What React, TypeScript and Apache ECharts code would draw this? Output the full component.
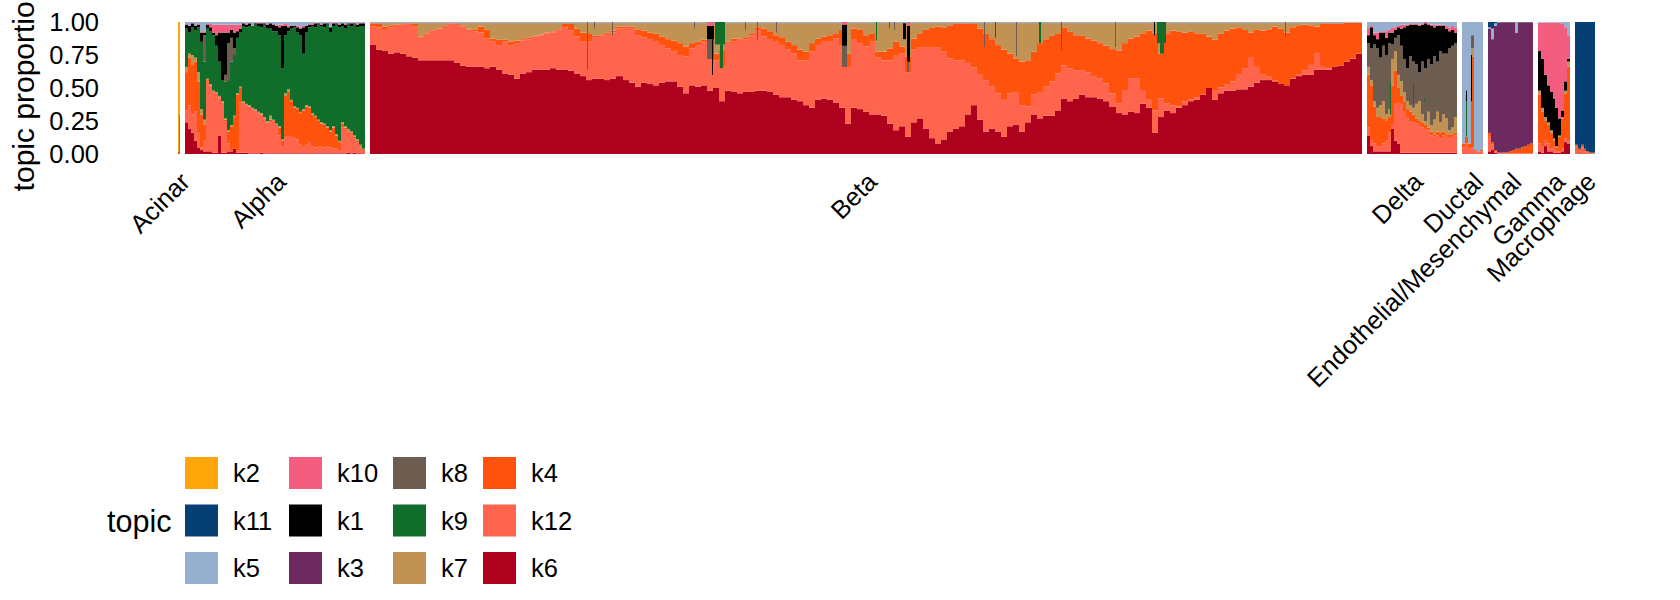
import React, { useEffect, useRef } from "react";
import * as echarts from "echarts";

const topicColors: Record<string, string> = {
  k2: "#FFA60A", k11: "#063F74", k5: "#96AFCF", k10: "#F35E80", k1: "#000000", k3: "#6C2A60",
  k8: "#6D5C50", k9: "#106E2A", k7: "#C09253", k4: "#FF530D", k12: "#FF654D", k6: "#AE011D",
};
const stackOrder = ["k6", "k12", "k4", "k7", "k9", "k8", "k3", "k1", "k10", "k5", "k11", "k2"];
const yTicks = [0, 0.25, 0.5, 0.75, 1];
const groupGap = 5;

// Each array holds, column by column, the proportion at the top edge of that topic's band.
const acinarK4Top = [0.02, 0.3];
const acinarK5Top = [0.02, 0.31];

const alphaK6Top = [.24,.19,.16,.10,.05,.03,.02,.02,.02,.01,.01,.14,.01,.01,.02,.02,.04,.01,.01,.01,.01,.005,.005,.005,.005,.01,.005,.005,.005,.005,.005,.005,.005,.005,.005,.005,.005,.005,.005,.005,.005,.005,.005,.005,.005,.005,.005,.005,.005,.005,.005,.005,.005,.005,.01,.005,.01,.005,.005,.005];
const alphaK12Top = [.33,.37,.30,.32,.16,.05,.10,.55,.52,.47,.46,.42,.38,.25,.08,.03,.04,.03,.39,.38,.37,.36,.34,.33,.31,.30,.27,.24,.24,.25,.22,.14,.06,.13,.13,.13,.12,.11,.07,.06,.07,.09,.06,.05,.06,.06,.05,.06,.05,.04,.04,.03,.20,.19,.17,.15,.12,.09,.05,.02];
const alphaK4Top = [.62,.73,.68,.70,.55,.30,.22,.56,.52,.47,.46,.43,.39,.26,.17,.21,.28,.45,.50,.39,.37,.36,.34,.33,.31,.30,.27,.24,.26,.25,.22,.20,.10,.44,.47,.40,.35,.34,.31,.33,.36,.35,.30,.28,.25,.23,.22,.20,.17,.20,.14,.09,.23,.20,.18,.16,.13,.10,.06,.03];
const alphaK7Top = [.66,.76,.75,.73,.62,.34,.26,.57,.53,.48,.47,.44,.40,.27,.18,.22,.29,.46,.51,.40,.38,.37,.35,.34,.32,.31,.28,.25,.29,.26,.23,.21,.11,.46,.49,.41,.36,.35,.32,.34,.37,.36,.31,.29,.26,.24,.23,.21,.18,.21,.15,.10,.24,.21,.19,.17,.14,.11,.07,.04];
const alphaK9Top = [.95,.92,.96,.94,.96,.85,.70,.95,.93,.90,.82,.70,.56,.55,.56,.70,.75,.88,.92,.97,.96,.97,.97,.98,.97,.96,.98,.95,.95,.93,.93,.90,.65,.90,.93,.95,.96,.92,.90,.76,.92,.96,.97,.96,.98,.97,.96,.98,.92,.97,.98,.96,.97,.95,.98,.97,.98,.96,.97,.97];
const alphaK8Top = [.95,.92,.96,.94,.96,.85,.90,.95,.93,.90,.82,.70,.56,.60,.84,.88,.80,.88,.92,.97,.96,.97,.97,.98,.97,.96,.98,.95,.95,.93,.93,.90,.65,.90,.93,.95,.96,.92,.90,.76,.92,.96,.97,.96,.98,.97,.96,.98,.92,.97,.98,.96,.97,.95,.98,.97,.98,.96,.97,.97];
const alphaK1Top = [.98,.97,.99,.97,.98,.92,.92,.98,.96,.92,.90,.92,.92,.92,.92,.94,.92,.93,.95,.99,.98,.99,.97,.99,.99,.99,.99,.98,.99,.98,.97,.96,.97,.97,.96,.97,.97,.96,.95,.96,.97,.98,.98,.99,.99,.98,.99,.99,.96,.99,.99,.98,.99,.98,.99,.99,.99,.98,.99,.99];
const alphaK10Top = [.985,.975,.995,.975,.985,.93,.93,.985,.99,.98,.98,.98,.98,.98,.98,.98,.98,.98,.98,.995,.985,.995,.975,.995,.995,.995,.995,.985,.995,.985,.975,.98,.98,.985,.975,.975,.975,.97,.96,.97,.975,.985,.985,.995,.995,.985,.995,.995,.965,.995,.995,.985,.995,.985,.995,.995,.995,.985,.995,.995];

const betaK6Top = [.83,.79,.78,.76,.77,.76,.74,.73,.71,.71,.71,.71,.71,.71,.69,.67,.66,.66,.66,.65,.66,.64,.61,.60,.57,.61,.62,.64,.64,.64,.65,.64,.64,.63,.61,.59,.56,.57,.57,.56,.57,.59,.56,.54,.51,.54,.53,.52,.54,.55,.55,.51,.46,.52,.51,.52,.48,.50,.40,.48,.47,.46,.47,.47,.48,.48,.47,.45,.43,.43,.41,.40,.37,.35,.41,.42,.41,.39,.35,.23,.35,.34,.32,
  .30,.30,.29,.23,.18,.21,.13,.24,.27,.19,.12,.08,.11,.17,.19,.21,.30,.37,.26,.17,.19,.17,.13,.21,.22,.17,.24,.30,.27,.29,.29,.33,.42,.40,.42,.45,.43,.43,.42,.40,.36,.31,.30,.32,.31,.38,.35,.16,.28,.33,.31,.35,.37,.40,.41,.45,.50,.41,.46,.48,.48,.49,.49,.51,.54,.56,.56,.55,.53,.52,.57,.59,.60,.60,.64,.64,.64,.66,.67,.70,.72,.76];
const betaK12Top = [.965,.96,.94,.96,.97,.98,.985,.965,.88,.91,.935,.95,.97,.985,.985,.965,.945,.93,.92,.875,.85,.825,.85,.82,.84,.86,.87,.89,.90,.915,.92,.94,.96,.935,.89,.85,.85,.885,.895,.90,.92,.95,.965,.95,.90,.885,.865,.85,.825,.80,.775,.75,.74,.80,.825,.85,.865,.71,.66,.84,.85,.865,.87,.90,.94,.89,.865,.85,.825,.79,.76,.71,.71,.775,.825,.85,.85,.875,.825,.66,.865,.84,.815,
  .85,.73,.71,.71,.75,.76,.62,.79,.81,.81,.81,.81,.775,.725,.71,.71,.69,.655,.60,.56,.51,.46,.41,.46,.47,.37,.36,.45,.47,.51,.55,.61,.67,.65,.635,.635,.62,.585,.575,.535,.46,.385,.485,.575,.575,.485,.41,.33,.42,.385,.37,.36,.40,.415,.43,.45,.50,.485,.505,.53,.55,.60,.65,.735,.66,.60,.585,.555,.53,.52,.575,.60,.635,.675,.76,.66,.65,.66,.67,.70,.725,.76];
const betaK4Top = [.99,.985,.965,.975,.98,.985,.99,.985,.89,.915,.94,.95,.97,.99,.99,.97,.95,.94,.965,.94,.875,.865,.865,.85,.86,.87,.88,.895,.905,.92,.925,.945,.985,.985,.95,.92,.915,.895,.90,.915,.935,.965,.97,.965,.945,.935,.92,.91,.89,.87,.86,.84,.815,.84,.85,.865,.87,.76,.79,.85,.875,.875,.885,.915,.96,.95,.93,.90,.885,.85,.825,.79,.775,.84,.875,.89,.90,.915,.94,.76,.95,.94,.90,
  .915,.775,.775,.80,.85,.815,.74,.875,.915,.94,.96,.965,.96,.975,.985,.99,.99,.985,.95,.91,.87,.825,.79,.76,.725,.70,.71,.775,.84,.87,.895,.915,.96,.925,.90,.895,.875,.86,.84,.82,.795,.785,.84,.875,.89,.915,.935,.915,.76,.915,.935,.925,.92,.925,.915,.91,.89,.865,.91,.935,.95,.96,.94,.92,.94,.935,.945,.965,.95,.92,.96,.97,.98,.975,.965,.985,.99,.99,.99,.995,.995,.995];
const betaK7Top = 0.992;

// [first cell, cells wide, topic, low, high]: narrow strips drawn over the columns.
const betaStrips: [number, number, string, number, number][] = [
  [217,1,"k8",.64,1],[242,1,"k8",.90,1],[387,1,"k8",.86,1],[324,1,"k8",.95,1],[375,1,"k8",.94,1],[406,1,"k8",.92,1],[224,1,"k8",.95,1],
  [337,7,"k8",.72,.87],[337,7,"k1",.87,.97],[337,7,"k10",.97,1],[342,1,"k1",.60,.87],[345,10,"k9",.83,1],[350,3,"k9",.65,.83],
  [472,5,"k8",.66,.82],[472,5,"k1",.82,.98],[472,5,"k10",.98,1],
  [533,3,"k1",.87,.99],[537,3,"k1",.70,.97],[537,3,"k10",.97,1],[537,2,"k8",.62,.70],[506,1,"k9",.86,1],[519,1,"k8",.95,1],[524,1,"k8",.94,1],
  [669,2,"k9",.84,1],[646,1,"k8",.74,1],[691,1,"k8",.79,1],[745,1,"k8",.81,1],[614,1,"k8",.81,1],[625,1,"k9",.88,1],[915,1,"k8",.89,1],
  [787,9,"k9",.84,1],[790,4,"k9",.76,.84],[784,1,"k1",.90,1],
];

const deltaK6Top = [.14,.06,.02,.02,.02,.02,.02,.02,.19,.10,.08,.01,.01,.01,.01,.01,.01,.01,.01,.01,.01,.01,.01,.01,.01,.01,.01,.01,.01,.01];
const deltaK12Top = [.20,.10,.08,.06,.06,.08,.10,.16,.22,.38,.38,.38,.32,.28,.25,.24,.23,.22,.20,.19,.18,.14,.13,.14,.12,.14,.13,.12,.13,.14];
const deltaK4Top = [.60,.52,.36,.28,.28,.27,.25,.28,.52,.63,.50,.44,.40,.34,.32,.30,.27,.25,.24,.22,.20,.17,.15,.17,.16,.17,.15,.15,.15,.16];
const deltaK7Top = [.66,.56,.40,.35,.37,.40,.30,.34,.72,.78,.60,.55,.47,.40,.37,.35,.38,.40,.30,.25,.32,.22,.26,.32,.24,.30,.27,.18,.20,.28];
const deltaK8Top = [.84,.80,.83,.80,.73,.82,.75,.84,.83,.88,.90,.82,.72,.65,.74,.70,.68,.62,.70,.65,.72,.68,.74,.70,.78,.76,.76,.80,.82,.84];
const deltaK1Top = [.90,.96,.90,.87,.92,.92,.88,.92,.92,.94,.96,.95,.96,.97,.98,.98,.98,.97,.98,.99,.98,.97,.96,.97,.97,.97,.95,.93,.94,.92];
const deltaK10Top = [.96,.97,.92,.92,.93,.93,.93,.94,.96,.96,.97,.98,.98,.98,.99,.99,.99,.98,.99,1,.99,.98,.98,.98,.98,.98,.97,.96,.97,.96];
const deltaStrips: [number, number, string, number, number][] = [[23,1,"k9",.30,.54],[46,1,"k9",.38,.53],[57,1,"k9",.40,.42]];

const ductalK12Top = [.05,.08,.04,.05,.02,.01,.02];
const ductalK4Top = [.08,.13,.08,.74,.03,.015,.03];
const ductalK7Top = [.08,.13,.08,.80,.03,.015,.03];
const ductalK8Top = [.08,.13,.08,.90,.03,.015,.03];
const ductalStrips: [number, number, string, number, number][] = [[9,1,"k1",.40,.75],[4,1,"k9",.13,.40],[4,1,"k1",.40,.48]];

const endoK6Top = [.02,.03,.01,.002,.002,.002,.002,.002,.002,.002,.002,.002,.002,.002,.002];
const endoK12Top = [.13,.07,.02,.01,.005,.005,.005,.005,.005,.005,.005,.005,.005,.005,.005];
const endoK4Top = [.16,.09,.03,.01,.01,.01,.015,.02,.03,.04,.04,.05,.06,.07,.08];
const endoK3Top = [.95,.87,.97,.995,.998,.998,.998,.998,.998,.92,.998,.998,.998,.998,.998];
const endoK5Top = [.96,.95,.99,.998,.999,.999,.999,.999,.999,.999,.999,.999,.999,.999,.999];

const gammaK6Top = [.02,.01,.06,.02,.02,.01,.01,.01,.02,.09,.08];
const gammaK12Top = [.08,.06,.10,.08,.04,.06,.03,.02,.04,.12,.10];
const gammaK4Top = [.45,.32,.25,.22,.16,.10,.05,.13,.27,.46,.66];
const gammaK7Top = [.48,.35,.28,.24,.18,.12,.06,.14,.28,.48,.70];
const gammaK1Top = [.78,.72,.60,.52,.47,.42,.35,.27,.33,.55,.72];
const gammaK10Top = [.995,.995,.995,.995,.995,.995,.995,.995,.99,.96,.90];

const macroK12Top = [.06,.03,.05,.02,.01,.005,.005];
const macroK4Top = [.07,.04,.07,.04,.02,.01,.01];

type Layer = [string, number[] | number];
type Group = { name: string; cells: number; columns: number; layers: Layer[]; fill: string; strips?: [number, number, string, number, number][] };

const groups: Group[] = [
  { name: "Acinar", cells: 2, columns: 2, layers: [["k4", acinarK4Top], ["k5", acinarK5Top]], fill: "k2" },
  { name: "Alpha", cells: 180, columns: 60, layers: [["k6", alphaK6Top], ["k12", alphaK12Top], ["k4", alphaK4Top], ["k7", alphaK7Top], ["k9", alphaK9Top], ["k8", alphaK8Top], ["k1", alphaK1Top], ["k10", alphaK10Top]], fill: "k5" },
  { name: "Beta", cells: 992, columns: 165, layers: [["k6", betaK6Top], ["k12", betaK12Top], ["k4", betaK4Top], ["k7", betaK7Top]], fill: "k5", strips: betaStrips },
  { name: "Delta", cells: 90, columns: 30, layers: [["k6", deltaK6Top], ["k12", deltaK12Top], ["k4", deltaK4Top], ["k7", deltaK7Top], ["k8", deltaK8Top], ["k1", deltaK1Top], ["k10", deltaK10Top]], fill: "k5", strips: deltaStrips },
  { name: "Ductal", cells: 21, columns: 7, layers: [["k12", ductalK12Top], ["k4", ductalK4Top], ["k7", ductalK7Top], ["k8", ductalK8Top]], fill: "k5", strips: ductalStrips },
  { name: "Endothelial/Mesenchymal", cells: 45, columns: 15, layers: [["k6", endoK6Top], ["k12", endoK12Top], ["k4", endoK4Top], ["k3", endoK3Top], ["k5", endoK5Top]], fill: "k11" },
  { name: "Gamma", cells: 32, columns: 11, layers: [["k6", gammaK6Top], ["k12", gammaK12Top], ["k4", gammaK4Top], ["k7", gammaK7Top], ["k1", gammaK1Top], ["k10", gammaK10Top]], fill: "k5" },
  { name: "Macrophage", cells: 20, columns: 7, layers: [["k12", macroK12Top], ["k4", macroK4Top]], fill: "k11" },
];

function buildSeriesData() {
  const out: Record<string, number[][]> = {};
  stackOrder.forEach((k) => (out[k] = []));
  const centers: { at: number; name: string }[] = [];
  let start = 0;
  for (const g of groups) {
    centers.push({ at: start + g.cells / 2, name: g.name });
    const w = g.cells / g.columns;
    for (let i = 0; i < g.columns; i++) {
      let prev = 0;
      const x0 = start + i * w;
      const x1 = x0 + w;
      for (const [k, arr] of g.layers) {
        const v = typeof arr === "number" ? arr : arr[i];
        if (v > prev) {
          out[k].push([x0, x1, prev, v, 0]);
          prev = v;
        }
      }
      if (prev < 1) out[g.fill].push([x0, x1, prev, 1, 0]);
    }
    for (const [cell, span, k, lo, hi] of g.strips ?? []) {
      out[k].push([start + cell, start + cell + span, lo, hi, 1]);
    }
    start += g.cells + groupGap;
  }
  return { out, centers, total: start - groupGap };
}

const legendColumns = [
  { left: 185, items: ["k2", "k11", "k5"] },
  { left: 289, items: ["k10", "k1", "k3"] },
  { left: 393, items: ["k8", "k9", "k7"] },
  { left: 483, items: ["k4", "k12", "k6"] },
];

export default function App() {
  const ref = useRef<HTMLDivElement>(null);
  useEffect(() => {
    const chart = echarts.init(ref.current!, null, { renderer: "svg" });
    const { out, centers, total } = buildSeriesData();
    const font = "Liberation Sans";
    // Labels hang 3 units left of each group's centre, as in the reference.
    const labelNudge = 3;
    const labelTicks = centers.map((c) => ({ at: c.at - labelNudge, name: c.name }));
    chart.setOption({
      animation: false,
      backgroundColor: "#fff",
      textStyle: { fontFamily: font },
      title: { text: "topic", left: 107, top: 505, padding: 0, textStyle: { fontFamily: font, fontSize: 30.5, fontWeight: "normal", color: "#000" } },
      grid: { left: 168, width: 1427, top: 22, height: 132, outerBoundsMode: "none" },
      legend: legendColumns.map((c) => ({
        orient: "vertical",
        left: c.left,
        top: 457,
        padding: 0,
        itemWidth: 33,
        itemHeight: 32,
        itemGap: 15.5,
        icon: "rect",
        selectedMode: false,
        data: c.items,
        textStyle: { fontFamily: font, fontSize: 25.5, color: "#000", padding: [2, 0, 0, 10] },
      })),
      xAxis: {
        type: "value",
        min: -10,
        max: total,
        axisLine: { show: false },
        axisTick: { show: false },
        splitLine: { show: false },
        axisLabel: {
          // the final entry is a blank tick, so the axis does not drop a real label for overlapping the last one
          customValues: [...labelTicks.map((c) => c.at), total],
          formatter: (v: number) => (v === total ? " " : labelTicks.reduce((a, b) => (Math.abs(b.at - v) < Math.abs(a.at - v) ? b : a)).name),
          rotate: 45,
          align: "right",
          verticalAlign: "top",
          margin: 14,
          hideOverlap: false,
          fontFamily: font,
          fontSize: 25.5,
          color: "#000",
        },
      },
      yAxis: {
        type: "value",
        min: 0,
        max: 1,
        interval: 0.25,
        name: "topic proportion",
        nameLocation: "middle",
        nameGap: 63,
        nameRotate: 90,
        nameTextStyle: { fontFamily: font, fontSize: 30, color: "#000" },
        axisLine: { show: false },
        axisTick: { show: false },
        splitLine: { show: false },
        axisLabel: {
          customValues: yTicks,
          formatter: (v: number) => v.toFixed(2),
          margin: 69,
          align: "right",
          hideOverlap: false,
          showMinLabel: true,
          showMaxLabel: true,
          fontFamily: font,
          fontSize: 25.5,
          color: "#000",
        },
      },
      series: stackOrder.map((k) => ({
        type: "custom",
        name: k,
        clip: false,
        silent: true,
        itemStyle: { color: topicColors[k] },
        encode: { x: [0, 1], y: [2, 3] },
        data: out[k],
        renderItem: (_: unknown, api: any) => {
          const a = api.coord([api.value(0), api.value(3)]);
          const b = api.coord([api.value(1), api.value(2)]);
          const x0 = Math.round(a[0]);
          const x1 = Math.round(b[0]);
          return {
            type: "rect",
            z2: api.value(4) ? 10 : 0,
            shape: { x: x0, y: a[1], width: Math.max(1, x1 - x0), height: b[1] - a[1] },
            style: { fill: api.visual("color") },
          };
        },
      })),
    });
    return () => chart.dispose();
  }, []);
  return <div ref={ref} style={{ position: "fixed", left: 0, top: 0, width: 1680, height: 600 }} />;
}
